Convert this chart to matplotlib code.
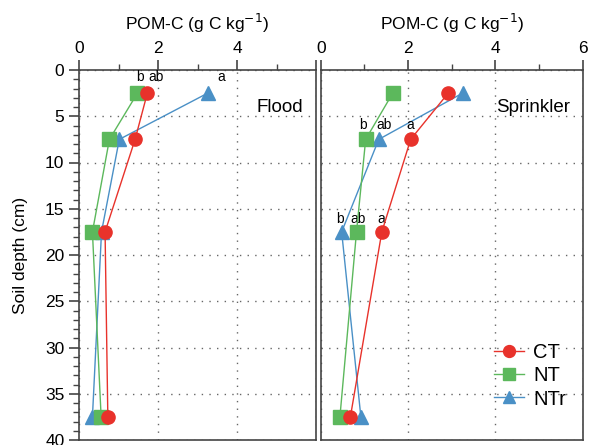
import matplotlib
matplotlib.use("Agg")
import matplotlib.pyplot as plt
from matplotlib.ticker import MultipleLocator

plt.rcParams['font.family'] = ['Liberation Sans', 'DejaVu Sans']

# depth of each sampled layer (cm)
depth = [2.5, 7.5, 17.5, 37.5]

# POM-C (g C kg-1), flood irrigation
flood_ct = [1.73, 1.42, 0.66, 0.73]
flood_nt = [1.48, 0.77, 0.34, 0.56]
flood_ntr = [3.26, 1.02, 0.57, 0.34]

# POM-C (g C kg-1), sprinkler irrigation
spr_ct = [2.92, 2.06, 1.40, 0.68]
spr_nt = [1.65, 1.03, 0.82, 0.44]
spr_ntr = [3.25, 1.33, 0.48, 0.92]

# significance letters (text, x, depth)
flood_letters = [("b", 1.55, 0.8), ("ab", 1.95, 0.8), ("a", 3.6, 0.8)]
spr_letters = [("b", 0.97, 5.9), ("ab", 1.46, 5.9), ("a", 2.05, 5.9),
               ("b", 0.45, 16.1), ("ab", 0.86, 16.1), ("a", 1.38, 16.1)]

red = '#e8322b'
green = '#5cb85c'
blue = '#4a90c6'
spine_col = '#444444'

fig = plt.figure(figsize=(5.9, 4.45), dpi=100)
ax1 = fig.add_axes([79 / 590, 5 / 445, 237 / 590, 370 / 445])
ax2 = fig.add_axes([320.7 / 590, 5 / 445, 262 / 590, 370 / 445])


def style(ax, show_y):
    ax.set_xlim(0, 6)
    ax.set_ylim(40, 0)
    ax.xaxis.set_ticks_position('top')
    ax.xaxis.set_label_position('top')
    ax.xaxis.set_major_locator(MultipleLocator(2))
    ax.xaxis.set_minor_locator(MultipleLocator(1))
    ax.yaxis.set_major_locator(MultipleLocator(5))
    ax.yaxis.set_minor_locator(MultipleLocator(1))
    ax.tick_params(axis='x', which='major', direction='out', length=7, width=1.2,
                   color=spine_col, labelsize=12.5, pad=3)
    ax.tick_params(axis='x', which='minor', direction='out', length=4, width=1,
                   color=spine_col)
    ax.tick_params(axis='x', which='both', bottom=False)
    if show_y:
        ax.tick_params(axis='y', which='major', direction='out', length=7, width=1.2,
                       color=spine_col, labelsize=12.5)
        ax.tick_params(axis='y', which='minor', direction='out', length=4, width=1,
                       color=spine_col)
        ax.tick_params(axis='y', which='both', right=False)
    else:
        ax.tick_params(axis='y', which='both', left=False, right=False, labelleft=False)
    for s in ax.spines.values():
        s.set_color(spine_col)
        s.set_linewidth(1.2)
    ax.grid(True, which='major', linestyle=(0, (1, 4.5)), color='#666666', linewidth=1)
    ax.set_axisbelow(True)
    ax.set_xlabel('POM-C (g C kg$^{-1}$)', fontsize=12.5, labelpad=8)


style(ax1, True)
style(ax2, False)
# left panel's "6" would sit on top of the right panel's "0"
ax1.set_xticks([0, 2, 4, 6])
ax1.set_xticklabels(['0', '2', '4', ''])

ax1.set_ylabel('Soil depth (cm)', fontsize=12.5, labelpad=12)

mk = dict(markersize=9.5, linewidth=1, clip_on=False)
for ax, ct, nt, ntr in [(ax1, flood_ct, flood_nt, flood_ntr), (ax2, spr_ct, spr_nt, spr_ntr)]:
    ax.plot(ntr, depth, color=blue, marker='^', label='NTr', zorder=3, **mk)
    ax.plot(nt, depth, color=green, marker='s', label='NT', zorder=4, **mk)
    ax.plot(ct, depth, color=red, marker='o', label='CT', zorder=5, **mk)

for txt, x, y in flood_letters:
    ax1.text(x, y, txt, fontsize=10, ha='center', va='center')
for txt, x, y in spr_letters:
    ax2.text(x, y, txt, fontsize=10, ha='center', va='center')

ax1.text(0.945, 0.9, 'Flood', transform=ax1.transAxes, fontsize=13.5, ha='right', va='center')
ax2.text(0.951, 0.9, 'Sprinkler', transform=ax2.transAxes, fontsize=13.5, ha='right', va='center')

h, l = ax2.get_legend_handles_labels()
order = [2, 1, 0]
ax2.legend([h[i] for i in order], [l[i] for i in order], loc='center left',
           bbox_to_anchor=(0.6, 0.173), frameon=False, fontsize=14.5,
           handlelength=1.5, handletextpad=0.45, labelspacing=0.2,
           borderaxespad=0.5, borderpad=0.3, markerscale=0.9)

fig.savefig('out.png', dpi=100)
